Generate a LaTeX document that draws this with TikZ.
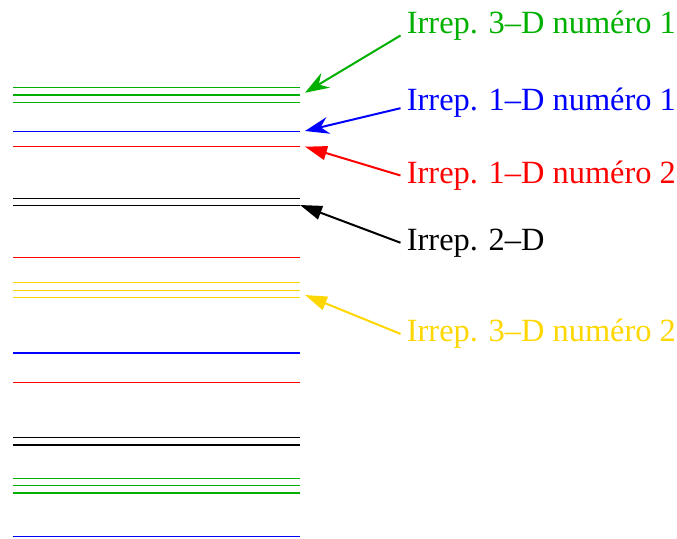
\documentclass[tikz,border=0pt]{standalone}
\usepackage{fontspec}
\newfontfamily\irfont{Liberation Serif}
\usetikzlibrary{arrows.meta, positioning}
\definecolor{irgreen}{HTML}{00B000}
\definecolor{irblue}{HTML}{0000FF}
\definecolor{irred}{HTML}{FF0000}
\definecolor{iryellow}{HTML}{FFD700}

\tikzset{
  level/.style={line width=0.6pt},
  irlabel/.style={anchor=base west, inner xsep=3pt, inner ysep=0pt, font=\irfont\fontsize{16.2}{19}\selectfont},
  notched/.style={-{Stealth[length=12pt, width=8.5pt, inset=4pt]}, line width=1pt},
  plain/.style={-{Triangle[length=11pt, width=7pt]}, line width=1pt}
}

\begin{document}
\begin{tikzpicture}[x=0.5pt, y=-0.5pt]
  \useasboundingbox (0,0) rectangle (677,538);

  % niveaux d'energie
  \foreach \y/\c in {87.3/irgreen, 95/irgreen, 102.3/irgreen, 131.7/irblue, 146.7/irred,
                     198.3/black, 205.7/black, 257.3/irred,
                     282.7/iryellow, 290.3/iryellow, 297.7/iryellow,
                     353/irblue, 382.3/irred, 437.7/black, 445/black,
                     478.3/irgreen, 485.7/irgreen, 493/irgreen, 536.5/irblue}
    \draw[level, \c] (13,\y) -- (300,\y);

  % pointes des fleches
  \coordinate (tg1) at (305,92.7);
  \coordinate (tb1) at (305,131);
  \coordinate (tr2) at (305,146.7);
  \coordinate (tk) at (300,205);
  \coordinate (ty2) at (305,295);

  % etiquettes
  \node[irlabel, text=irgreen] (g1) at (400.5,33.3) {Irrep. 3–D numéro 1};
  \node[irlabel, text=irblue] (b1) at (400.5,110) {Irrep. 1–D numéro 1};
  \node[irlabel, text=irred] (r2) at (400.5,183.3) {Irrep. 1–D numéro 2};
  \node[irlabel, text=black] (k) at (400.5,250) {Irrep. 2–D};
  \node[irlabel, text=iryellow] (y2) at (400.5,341.7) {Irrep. 3–D numéro 2};

  % fleches
  \draw[notched, irgreen] ([yshift=-5pt]g1.west) -- (tg1);
  \draw[notched, irblue] ([yshift=-3pt]b1.west) -- (tb1);
  \draw[plain, irred] (r2.west) -- (tr2);
  \draw[plain, black] (k.west) -- (tk);
  \draw[plain, iryellow] (y2.west) -- (ty2);
\end{tikzpicture}
\end{document}
